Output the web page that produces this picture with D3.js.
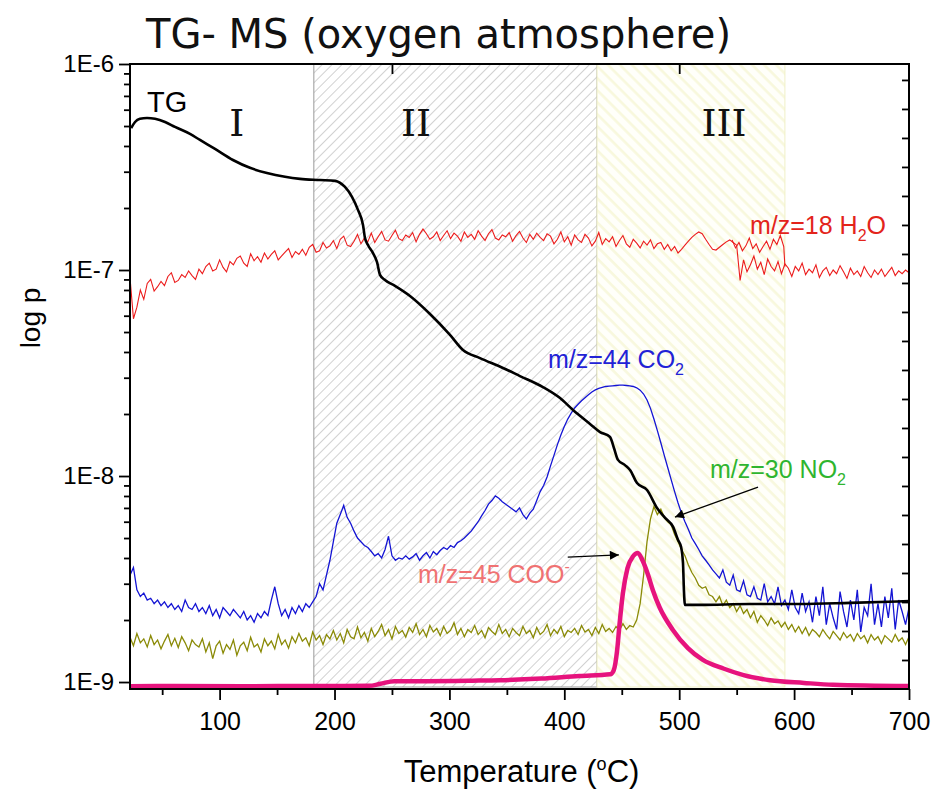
<!DOCTYPE html>
<html>
<head>
<meta charset="utf-8">
<script src="https://cdn.jsdelivr.net/npm/d3@7"></script>
<style>
  body { margin: 0; background: #fff; }
  svg { display: block; }
</style>
</head>
<body>
<svg id="chart" width="934" height="789"></svg>
<script>
// ---------------- data ----------------
// MS sampling temperatures (°C), one reading every 3 °C
const temps = d3.range(22, 701, 3);

// ion currents as partial pressure, in units of 1E-9
const h2o = [
  92, 58, 66, 80, 72, 86, 90, 79, 83, 88,
  84, 93, 97, 87, 89, 95, 92, 99, 94, 90,
  101, 96, 104, 108, 99, 101, 112, 103, 98, 110,
  106, 114, 117, 108, 104, 120, 111, 116, 109, 121,
  113, 119, 124, 112, 117, 122, 127, 115, 123, 119,
  126, 118, 129, 133, 122, 124, 136, 128, 131, 139,
  127, 141, 146, 132, 130, 138, 149, 134, 143, 137,
  151, 136, 145, 154, 140, 138, 147, 156, 142, 139,
  148, 144, 152, 137, 149, 158, 150, 141, 145, 153,
  139, 147, 155, 142, 151, 146, 138, 153, 144, 149,
  141, 155, 146, 139, 150, 157, 143, 140, 148, 145,
  152, 138, 147, 154, 143, 136, 149, 141, 151, 144,
  139, 150, 146, 134, 141, 153, 137, 145, 132, 148,
  140, 136, 149, 143, 131, 138, 152, 133, 142, 137,
  145, 130, 139, 147, 134, 129, 141, 135, 128, 138,
  132, 140, 127, 134, 136, 126, 133, 124, 130, 121,
  126, 132, 138, 144, 149, 153, 150, 141, 133, 126,
  125, 129, 133, 137, 140, 136, 132, 89, 112, 98,
  106, 117, 101, 109, 95, 113, 104, 99, 110, 96,
  107, 102, 93, 104, 99, 108, 95, 101, 97, 106,
  92, 99, 103, 94, 100, 96, 105, 98, 91, 102,
  95, 99, 93, 104, 97, 92, 100, 95, 101, 93,
  98, 103, 94, 99, 96, 100, 97
];
// second pass of the H2O trace recorded over 546-592 °C
const h2oRetraceT = [546, 549, 552, 555, 558, 561, 564, 567, 570, 573, 576, 579, 582, 585, 588, 591, 592];
const h2oRetraceV = [140, 128, 136, 124, 131, 143, 127, 134, 122, 130, 138, 126, 141, 133, 147, 130, 104];

const co2 = [
  3.3, 3.6, 2.8, 2.6, 2.7, 2.5, 2.55, 2.4, 2.5, 2.35,
  2.45, 2.3, 2.4, 2.25, 2.35, 2.2, 2.5, 2.3, 2.25, 2.4,
  2.2, 2.3, 2.15, 2.35, 2.1, 2.25, 2.05, 2.3, 2.2, 2.1,
  2.25, 2.15, 2.05, 2.2, 2.0, 2.1, 1.95, 2.15, 2.05, 2.2,
  2.1, 2.5, 2.9, 2.4, 2.1, 2.25, 2.05, 2.3, 2.15, 2.35,
  2.2, 2.4, 2.3, 2.45, 2.6, 3.0, 2.8, 3.3, 3.9, 4.8,
  5.9, 6.5, 7.2, 6.3, 5.9, 5.4, 5.0, 4.8, 4.6, 4.5,
  4.3, 4.1, 4.2, 4.0, 4.4, 5.1, 4.1, 3.9, 4.0, 3.95,
  4.1, 3.95, 4.05, 4.2, 3.9, 4.1, 4.25, 4.0, 4.3, 4.15,
  4.35, 4.5, 4.4, 4.6, 4.5, 4.75, 4.85, 5.0, 5.2, 5.4,
  5.7, 6.0, 6.4, 6.8, 7.3, 7.6, 8.0, 7.8, 7.5, 7.3,
  7.1, 6.9, 6.7, 7.0, 6.5, 6.2, 6.6, 6.9, 7.6, 8.4,
  9.0, 9.9, 11.2, 12.6, 14.2, 15.8, 17.4, 18.9, 20.2, 21.4,
  22.3, 23.2, 24.0, 24.8, 25.6, 26.2, 26.6, 26.9, 27.2, 27.3,
  27.4, 27.5, 27.6, 27.6, 27.5, 27.4, 27.2, 26.8, 26.1, 25.0,
  23.4, 21.3, 18.9, 16.6, 14.5, 12.6, 11.0, 9.6, 8.4, 7.4,
  6.6, 6.0, 5.5, 5.0, 4.7, 4.4, 4.1, 3.9, 3.7, 3.5,
  3.35, 3.2, 3.5, 3.05, 2.95, 3.3, 2.8, 2.75, 3.1, 2.65,
  2.6, 2.9, 2.55, 2.5, 3.0, 2.45, 2.6, 2.4, 2.9, 2.35,
  2.5, 2.25, 2.8, 2.3, 2.15, 2.7, 2.2, 2.45, 1.95, 2.6,
  2.1, 2.9, 1.9, 2.4, 2.05, 1.8, 2.75, 2.2, 1.85, 2.5,
  2.0, 2.8, 1.75, 2.3, 2.1, 3.0, 1.9, 2.4, 1.85, 2.6,
  2.05, 2.85, 1.8, 2.5, 2.2, 1.9, 2.3
];

const no2 = [
  1.65, 1.5, 1.72, 1.55, 1.62, 1.48, 1.68, 1.52, 1.6, 1.45,
  1.58, 1.7, 1.5, 1.63, 1.47, 1.66, 1.55, 1.42, 1.6, 1.52,
  1.48, 1.62, 1.4, 1.55, 1.3, 1.5, 1.58, 1.38, 1.52, 1.44,
  1.6, 1.35, 1.5, 1.56, 1.42, 1.65, 1.48, 1.53, 1.4, 1.62,
  1.5, 1.58, 1.45, 1.7, 1.52, 1.6, 1.46, 1.66, 1.55, 1.72,
  1.58, 1.64, 1.5, 1.75, 1.6, 1.68, 1.52, 1.7, 1.62, 1.78,
  1.6, 1.72, 1.55, 1.8, 1.66, 1.62, 1.85, 1.64, 1.74, 1.58,
  1.82, 1.66, 1.76, 1.9, 1.68, 1.8, 1.62, 1.86, 1.72, 1.78,
  1.65, 1.84, 1.74, 1.92, 1.7, 1.8, 1.66, 1.88, 1.75, 1.82,
  1.68, 1.86, 1.72, 1.78, 1.94, 1.7, 1.82, 1.66, 1.8, 1.74,
  1.88, 1.7, 1.78, 1.64, 1.84, 1.76, 1.7, 1.9, 1.72, 1.8,
  1.66, 1.82, 1.74, 1.68, 1.86, 1.72, 1.78, 1.64, 1.84, 1.7,
  1.76, 1.9, 1.68, 1.8, 1.72, 1.86, 1.66, 1.78, 1.74, 1.82,
  1.7, 1.88, 1.75, 1.8, 1.68, 1.84, 1.72, 1.9, 1.76, 1.82,
  1.74, 1.86, 1.78, 1.92, 1.8, 1.88, 1.85, 2.0, 2.4, 3.3,
  4.8, 6.2, 7.1, 6.5, 6.9, 6.3, 6.0, 5.8, 5.2, 4.8,
  4.4, 4.1, 3.7, 3.4, 3.2, 2.95, 2.85, 2.9, 2.65, 2.6,
  2.45, 2.6, 2.35, 2.5, 2.3, 2.4, 2.2, 2.35, 2.15, 2.25,
  2.05, 2.2, 1.95, 2.1, 2.0, 1.88, 2.05, 1.92, 1.98, 1.85,
  1.95, 1.8, 1.9, 1.75, 1.86, 1.72, 1.84, 1.68, 1.8, 1.74,
  1.66, 1.8, 1.7, 1.62, 1.76, 1.68, 1.6, 1.74, 1.64, 1.7,
  1.58, 1.72, 1.62, 1.68, 1.55, 1.7, 1.6, 1.66, 1.54, 1.68,
  1.62, 1.56, 1.7, 1.58, 1.64, 1.52, 1.66
];

// m/z = 45 trace (smooth), temperature / value pairs
const cooT = [22, 60, 120, 180, 230, 240, 252, 280, 320, 344, 380, 413, 440, 443, 446, 448, 451, 455, 460, 464, 468, 473, 477, 483, 494.5, 507.6, 520.6, 539, 556, 579, 608.6, 634, 700];
const cooV = [0.955, 0.957, 0.955, 0.956, 0.958, 0.98, 1.01, 1.01, 1.015, 1.02, 1.04, 1.07, 1.09, 1.14, 1.43, 1.89, 2.7, 3.57, 4.09, 4.23, 3.9, 3.3, 2.8, 2.3, 1.79, 1.46, 1.28, 1.16, 1.08, 1.02, 0.99, 0.97, 0.956];

// TG mass signal (right axis, unlabelled units)
const tgT = [23, 26.4, 30.7, 36.8, 43.8, 52.5, 61.2, 74.2, 82.9, 96,
  111.6, 126.4, 141.2, 156.9, 170, 187.4, 200.4, 209.1, 215.2, 220.4,
  224.8, 226.5, 229.1, 233.5, 237, 239.6, 243.9, 252.6, 265.7, 283.1,
  300.5, 311.8, 326.6, 346.6, 361.4, 381.4, 396.3, 407.6, 422.4, 431.1,
  439.8, 443.2, 446.7, 452.8, 457.2, 463.3, 472, 480.7, 487.7, 494.7,
  499, 501.6, 503.3, 504.1, 505, 518, 561.6, 605.1, 648.7, 700];
const tgV = [19.34, 19.55, 19.66, 19.69, 19.66, 19.55, 19.38, 19.14, 18.93, 18.62,
  18.24, 17.97, 17.79, 17.66, 17.59, 17.55, 17.52, 17.31, 16.97, 16.52,
  16.0, 15.55, 15.31, 15.03, 14.72, 14.28, 14.1, 13.9, 13.55, 12.93,
  12.21, 11.69, 11.41, 11.07, 10.79, 10.41, 10.03, 9.62, 9.14, 8.86,
  8.69, 8.31, 7.9, 7.72, 7.55, 7.1, 6.86, 6.24, 5.9, 5.59,
  5.14, 4.9, 4.34, 3.41, 2.9, 2.9, 2.93, 2.93, 2.97, 3.03];

// decomposition stages
const stageNames = ["I", "II", "III"];
const stageFrom = [22, 182, 428.5];
const stageTo = [182, 428.5, 592];
const stageLabelAt = [115, 271, 539];

// axis ticks
const yMajor = [1e-9, 1e-8, 1e-7, 1e-6];
const yMajorLabels = ["1E-9", "1E-8", "1E-7", "1E-6"];
const xMajor = [100, 200, 300, 400, 500, 600, 700];
const xMinor = [50, 150, 250, 350, 450, 550, 650];
const topTicks = [250, 500];
const tgTicks = d3.range(1, 22);

// ---------------- chart ----------------
const svg = d3.select("#chart");
const M = { left: 130, right: 909, top: 64, bottom: 689 };
const SANS = "'Liberation Sans', Arial, sans-serif";
const E9 = 1e-9;

const x = d3.scaleLinear().domain([22, 700]).range([M.left, M.right]);
const y = d3.scaleLog().domain([9.25e-10, 1e-6]).range([M.bottom, M.top]);
const yTG = d3.scaleLinear().domain([0, 21.55]).range([M.bottom, M.top]);

const defs = svg.append("defs");
defs.append("clipPath").attr("id", "plot-clip")
  .append("rect").attr("x", M.left).attr("y", M.top)
  .attr("width", M.right - M.left).attr("height", M.bottom - M.top);

const hatchGray = defs.append("pattern").attr("id", "hatch-gray")
  .attr("patternUnits", "userSpaceOnUse").attr("width", 7).attr("height", 7)
  .attr("patternTransform", "rotate(45)");
hatchGray.append("rect").attr("width", 7).attr("height", 7).attr("fill", "#fff");
hatchGray.append("line").attr("x1", 0).attr("y1", 0).attr("x2", 0).attr("y2", 7)
  .attr("stroke", "#a4a4a4").attr("stroke-width", 1);

const hatchYellow = defs.append("pattern").attr("id", "hatch-yellow")
  .attr("patternUnits", "userSpaceOnUse").attr("width", 8.5).attr("height", 8.5)
  .attr("patternTransform", "rotate(-45)");
hatchYellow.append("rect").attr("width", 8.5).attr("height", 8.5).attr("fill", "#fffffa");
hatchYellow.append("line").attr("x1", 1.5).attr("y1", 0).attr("x2", 1.5).attr("y2", 8.5)
  .attr("stroke", "#f8f8dc").attr("stroke-width", 2.5);

defs.append("marker").attr("id", "arrow")
  .attr("viewBox", "0 0 10 10").attr("refX", 10).attr("refY", 5)
  .attr("markerWidth", 15).attr("markerHeight", 9).attr("markerUnits", "userSpaceOnUse")
  .attr("orient", "auto")
  .append("path").attr("d", "M0,0 L10,5 L0,10 Z").attr("fill", "#000");

// stage shading
const stageFill = [null, "url(#hatch-gray)", "url(#hatch-yellow)"];
const stageStroke = [null, "#9a9a9a", "#f0f0c8"];
stageNames.forEach((name, i) => {
  if (stageFill[i]) {
    svg.append("rect")
      .attr("x", x(stageFrom[i])).attr("y", M.top)
      .attr("width", x(stageTo[i]) - x(stageFrom[i]))
      .attr("height", M.bottom - 2 - M.top)
      .attr("fill", stageFill[i]).attr("stroke", stageStroke[i]).attr("stroke-width", 1);
  }
  svg.append("text")
    .attr("x", x(stageLabelAt[i])).attr("y", 136)
    .attr("text-anchor", "middle")
    .attr("font-family", "'DejaVu Serif', serif").attr("font-size", 38)
    .attr("fill", "#111").text(name);
});

// data lines
const plot = svg.append("g").attr("clip-path", "url(#plot-clip)");
const gridLine = d3.line().x((d, i) => x(temps[i])).y(d => y(d * E9));
const pairLine = (ts, vs, yy, curve) => d3.line()
  .x((d, i) => x(ts[i])).y((d, i) => yy(vs[i])).curve(curve || d3.curveLinear)(vs);

plot.append("path").attr("d", gridLine(h2o))
  .attr("fill", "none").attr("stroke", "#ec1c1c").attr("stroke-width", 1.1);
plot.append("path").attr("d", pairLine(h2oRetraceT, h2oRetraceV, v => y(v * E9)))
  .attr("fill", "none").attr("stroke", "#ec1c1c").attr("stroke-width", 1.1);
plot.append("path").attr("d", gridLine(co2))
  .attr("fill", "none").attr("stroke", "#1414d4").attr("stroke-width", 1.3);
plot.append("path").attr("d", gridLine(no2))
  .attr("fill", "none").attr("stroke", "#8a8a06").attr("stroke-width", 1.3);
plot.append("path").attr("d", pairLine(cooT, cooV, v => y(v * E9), d3.curveMonotoneX))
  .attr("fill", "none").attr("stroke", "#e6137d").attr("stroke-width", 4.5)
  .attr("stroke-linejoin", "round");
plot.append("path").attr("d", pairLine(tgT, tgV, v => yTG(v), d3.curveMonotoneX))
  .attr("fill", "none").attr("stroke", "#000").attr("stroke-width", 2.6)
  .attr("stroke-linejoin", "round");

// frame
svg.append("rect").attr("x", M.left).attr("y", M.top)
  .attr("width", M.right - M.left).attr("height", M.bottom - M.top)
  .attr("fill", "none").attr("stroke", "#000").attr("stroke-width", 2);

function styleAxis(g, fontSize) {
  g.select(".domain").remove();
  g.selectAll(".tick line").attr("stroke", "#000").attr("stroke-width", 1.8);
  g.selectAll(".tick text").attr("font-family", SANS).attr("font-size", fontSize).attr("fill", "#000");
}

// left axis (log)
const yMinor = [];
yMajor.slice(0, 3).forEach(d => { for (let k = 2; k <= 9; k++) yMinor.push(d * k); });
svg.append("g").attr("transform", `translate(${M.left},0)`)
  .call(d3.axisLeft(y).tickValues(yMajor).tickSize(11).tickPadding(5)
    .tickFormat((d, i) => yMajorLabels[i]))
  .call(g => styleAxis(g, 24));
svg.append("g").attr("transform", `translate(${M.left},0)`)
  .call(d3.axisLeft(y).tickValues(yMinor).tickSize(6).tickFormat(""))
  .call(g => styleAxis(g, 0));

// bottom axis
svg.append("g").attr("transform", `translate(0,${M.bottom})`)
  .call(d3.axisBottom(x).tickValues(xMajor).tickSize(11).tickPadding(12))
  .call(g => styleAxis(g, 25));
svg.append("g").attr("transform", `translate(0,${M.bottom})`)
  .call(d3.axisBottom(x).tickValues(xMinor).tickSize(6).tickFormat(""))
  .call(g => styleAxis(g, 0));

// top axis (ticks only, inward)
svg.append("g").attr("transform", `translate(0,${M.top})`)
  .call(d3.axisTop(x).tickValues(topTicks).tickSize(-10).tickFormat(""))
  .call(g => styleAxis(g, 0));

// right axis for TG (ticks only, inward)
svg.append("g").attr("transform", `translate(${M.right},0)`)
  .call(d3.axisRight(yTG).tickValues(tgTicks).tickSize(-7).tickFormat(""))
  .call(g => styleAxis(g, 0));

// titles
svg.append("text").attr("x", 146).attr("y", 48)
  .attr("font-family", "'DejaVu Sans', Verdana, sans-serif").attr("font-size", 40)
  .attr("fill", "#111").text("TG- MS (oxygen atmosphere)");

const xt = svg.append("text").attr("x", (M.left + M.right) / 2 + 2).attr("y", 782)
  .attr("text-anchor", "middle").attr("font-family", SANS).attr("font-size", 31).attr("fill", "#000");
xt.append("tspan").text("Temperature (");
xt.append("tspan").attr("font-size", 18).attr("dy", -12).text("o");
xt.append("tspan").attr("dy", 12).text("C)");

svg.append("text")
  .attr("transform", "translate(40,318) rotate(-90)")
  .attr("text-anchor", "middle").attr("font-family", SANS).attr("font-size", 28)
  .attr("fill", "#000").text("log p");

// series annotations
svg.append("text").attr("x", x(36.8)).attr("y", y(585 * E9))
  .attr("font-family", SANS).attr("font-size", 29).attr("fill", "#000").text("TG");

function chemLabel(t, v, color, main, sub, tail, sup) {
  const tx = svg.append("text").attr("x", x(t)).attr("y", y(v * E9))
    .attr("font-family", SANS).attr("font-size", 25).attr("fill", color);
  tx.append("tspan").text(main);
  if (sub) {
    tx.append("tspan").attr("font-size", 16).attr("dy", 7).text(sub);
    tx.append("tspan").attr("dy", -7).text(tail);
  }
  if (sup) {
    tx.append("tspan").attr("font-size", 16).attr("dy", -11).text(sup);
  }
}
chemLabel(561.6, 149.6, "#e3241b", "m/z=18 H", "2", "O");
chemLabel(385.8, 33.4, "#2222d6", "m/z=44 CO", "2", "");
chemLabel(526.8, 9.77, "#2fb52f", "m/z=30 NO", "2", "");
chemLabel(272.6, 3.02, "#f07272", "m/z=45 COO", null, null, "-");

// arrows
function arrow(t0, v0, t1, v1) {
  svg.append("line")
    .attr("x1", x(t0)).attr("y1", y(v0 * E9)).attr("x2", x(t1)).attr("y2", y(v1 * E9))
    .attr("stroke", "#000").attr("stroke-width", 1.3).attr("marker-end", "url(#arrow)");
}
arrow(403, 4.04, 447.5, 4.14);
arrow(568.6, 8.84, 496.3, 6.32);
</script>
</body>
</html>
